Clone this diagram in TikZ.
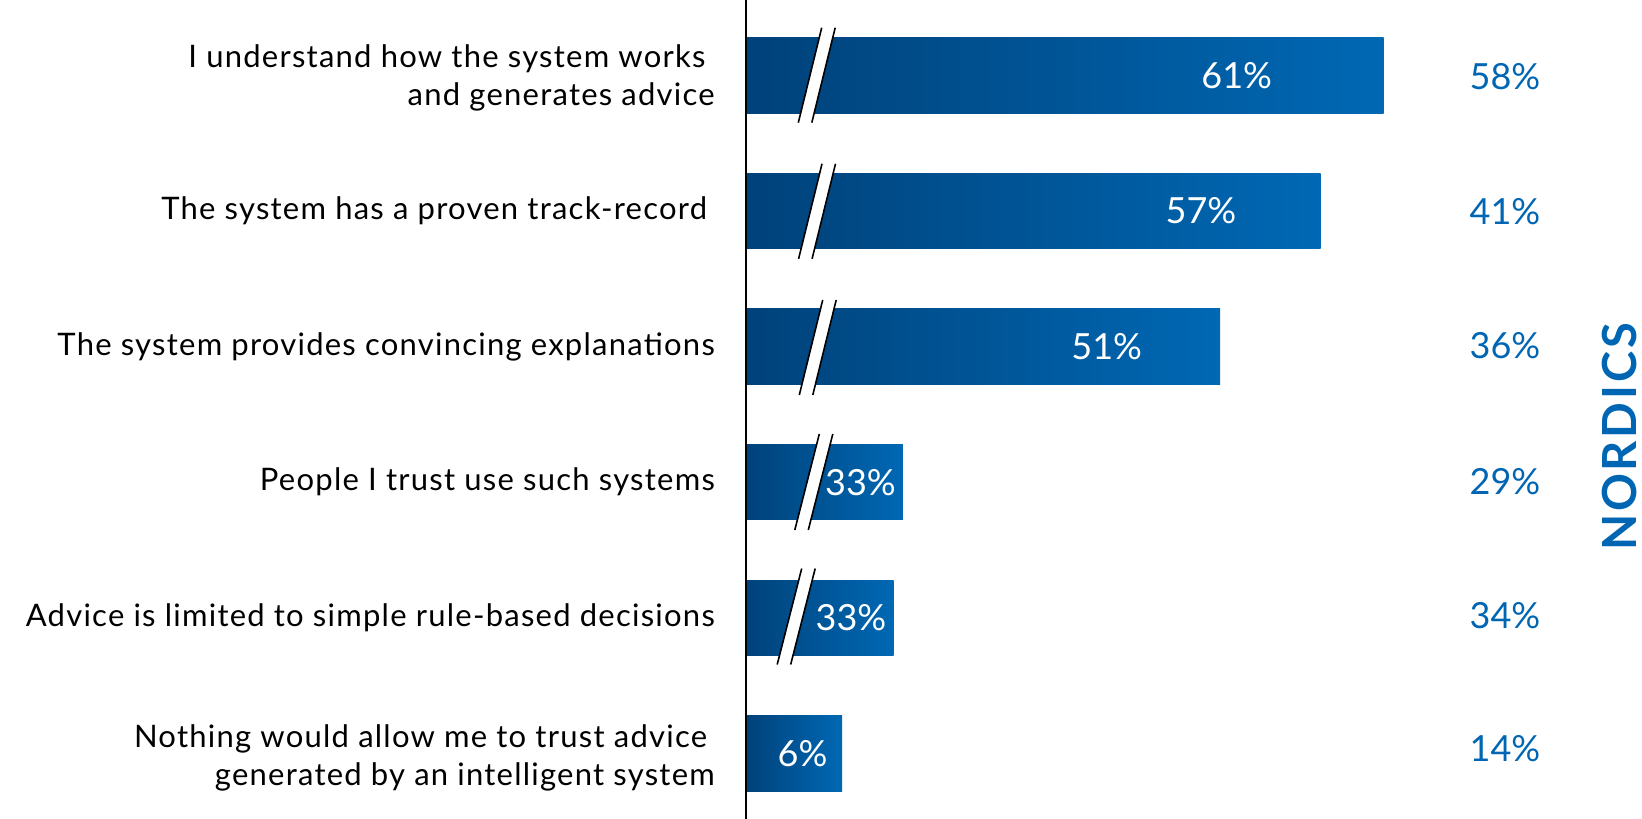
\documentclass[tikz,border=0pt]{standalone}
\usepackage{fontspec}
\setmainfont{Lato}
\newfontfamily\labelfont[LetterSpace=4]{Lato}
\newfontfamily\regionfont[LetterSpace=6]{Lato}
\definecolor{bardark}{RGB}{0,66,122}
\definecolor{barlight}{RGB}{0,104,180}
\definecolor{nordblue}{RGB}{0,102,179}

\begin{document}
\begin{tikzpicture}[x=1pt,y=-1pt]
        \useasboundingbox (0,0) rectangle (1642,819);

        \begin{scope}[every node/.style={anchor=west, inner sep=0pt, minimum height=75.5pt, left color=bardark, right color=barlight}]
          \node[minimum width=637.4pt] (bar1) at (746,75.4)  {};
          \node[minimum width=574.5pt] (bar2) at (746,211)   {};
          \node[minimum width=474pt]   (bar3) at (746,346.6) {};
          \node[minimum width=156.7pt] (bar4) at (746,482.2) {};
          \node[minimum width=147.3pt] (bar5) at (746,617.8) {};
          \node[minimum width=96pt]    (bar6) at (746,753.4) {};
        \end{scope}

        \coordinate (axtop) at (746,0);
        \coordinate (axbot) at (746,819);
        \draw[line width=2pt] (axtop) -- (axbot);

        \begin{scope}[every path/.style={line width=1.6pt}]
          \fill[white] (821.7,27.7)  -- ++(-23.4,95) -- ++(13.5,0) -- ++(23.4,-95) -- cycle;
          \draw (821.7,27.7)  -- ++(-23.4,95) (835.2,27.7)  -- ++(-23.4,95);
          \fill[white] (822,163.8)   -- ++(-23.4,95) -- ++(13.5,0) -- ++(23.4,-95) -- cycle;
          \draw (822,163.8)   -- ++(-23.4,95) (835.5,163.8) -- ++(-23.4,95);
          \fill[white] (822.7,300)   -- ++(-23.4,95) -- ++(13.5,0) -- ++(23.4,-95) -- cycle;
          \draw (822.7,300)   -- ++(-23.4,95) (836.2,300)   -- ++(-23.4,95);
          \fill[white] (819.3,434)   -- ++(-24.5,96) -- ++(13.5,0) -- ++(24.5,-96) -- cycle;
          \draw (819.3,434)   -- ++(-24.5,96) (832.8,434)   -- ++(-24.5,96);
          \fill[white] (801.7,568.5) -- ++(-24.5,96) -- ++(13.5,0) -- ++(24.5,-96) -- cycle;
          \draw (801.7,568.5) -- ++(-24.5,96) (815.2,568.5) -- ++(-24.5,96);
        \end{scope}

        \begin{scope}[every node/.style={anchor=east, align=right, inner sep=0pt, font=\labelfont\fontsize{31}{38}\selectfont}]
          \node (q1) at (715,78)    {I understand how the system works\hspace*{0.3em}\\and generates advice};
          \node (q2) at (715,211)   {The system has a proven track-record\hspace*{0.25em}};
          \node (q3) at (715,346.6) {The system provides convincing explanations};
          \node (q4) at (715,482.2) {People I trust use such systems};
          \node (q5) at (715,617.8) {Advice is limited to simple rule-based decisions};
          \node (q6) at (715,758)   {Nothing would allow me to trust advice\hspace*{0.25em}\\generated by an intelligent system};
        \end{scope}

        \begin{scope}[every node/.style={white, inner sep=0pt, font=\fontsize{36}{40}\selectfont}]
          \node (v1) at (1236.7,75.4)  {61\%};
          \node (v2) at (1201,211)     {57\%};
          \node (v3) at (1106.7,346.6) {51\%};
          \node (v4) at (860.5,482.2)  {33\%};
          \node (v5) at (851,617.8)    {33\%};
          \node (v6) at (802.5,753.4)  {6\%};
        \end{scope}

        \begin{scope}[every node/.style={nordblue, inner sep=0pt, font=\fontsize{36}{40}\selectfont}]
          \node (n1) at (1505,76.4)  {58\%};
          \node (n2) at (1505,211.5) {41\%};
          \node (n3) at (1505,345.6) {36\%};
          \node (n4) at (1505,481.7) {29\%};
          \node (n5) at (1505,615.8) {34\%};
          \node (n6) at (1505,748.7) {14\%};
        \end{scope}

        \node[nordblue, rotate=90, inner sep=0pt, font=\regionfont\fontsize{47}{50}\selectfont\bfseries] (region) at (1619,437) {NORDICS};

      \end{tikzpicture}
\end{document}
